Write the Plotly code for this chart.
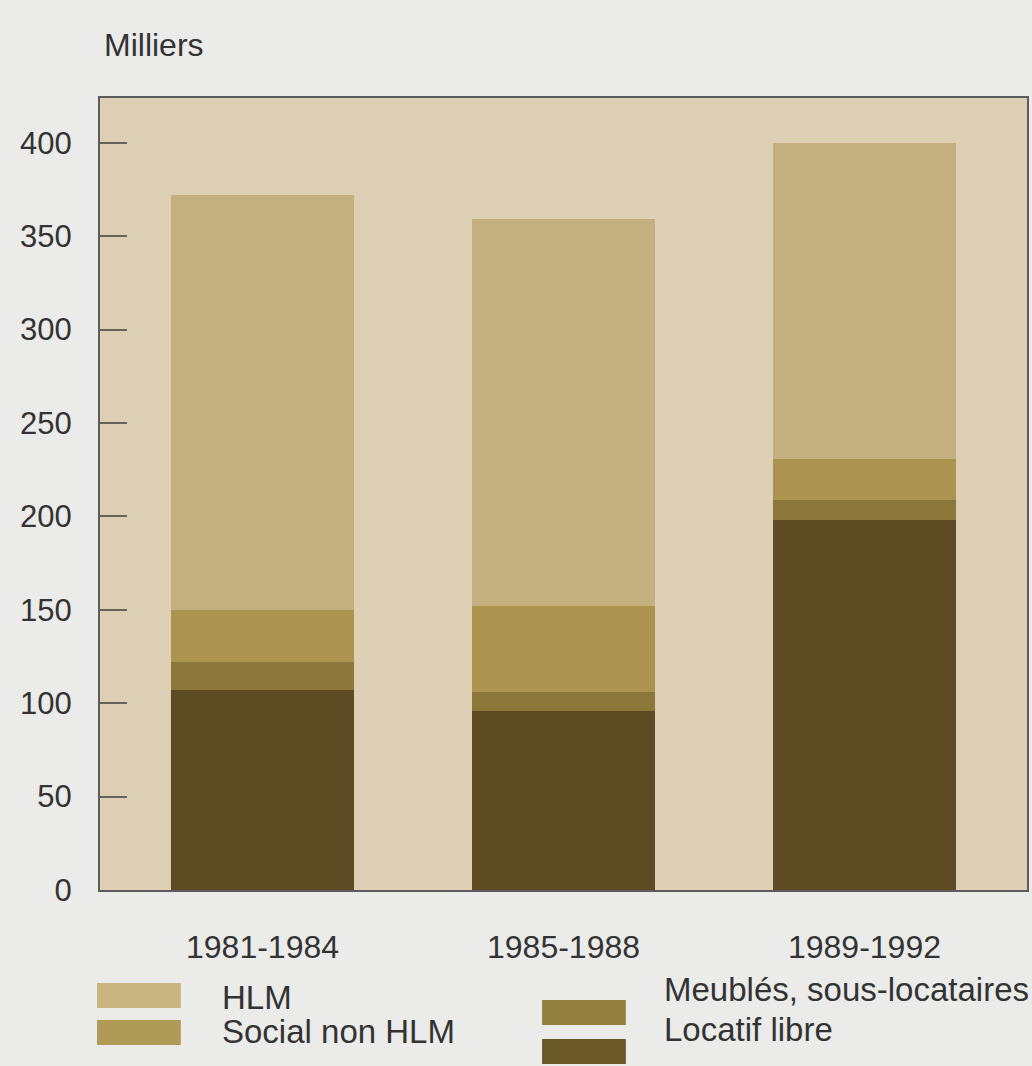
import plotly.graph_objects as go

# Periods and housing categories (thousands of dwellings)
periods = ["1981-1984", "1985-1988", "1989-1992"]
locatif_libre = [107, 96, 198]
meubles_sous_locataires = [15, 10, 11]
social_non_hlm = [28, 46, 22]
hlm = [222, 207, 169]

y_ticks = [0, 50, 100, 150, 200, 250, 300, 350, 400]

series = [
    ("Locatif libre", locatif_libre, "#5d4c23"),
    ("Meublés, sous-locataires", meubles_sous_locataires, "#8a7739"),
    ("Social non HLM", social_non_hlm, "#aa944f"),
    ("HLM", hlm, "#c4b07e"),
]
legend_colors = {
    "HLM": "#c8b47f",
    "Social non HLM": "#b09a57",
    "Meublés, sous-locataires": "#948140",
    "Locatif libre": "#6a5827",
}

FONT = "Liberation Sans, Arial, Helvetica, sans-serif"
TXT = "#333333"

fig = go.Figure()
x_pos = list(range(len(periods)))
for name, vals, color in series:
    fig.add_trace(go.Bar(
        x=x_pos, y=vals, name=name, width=0.61,
        marker=dict(color=color, line=dict(width=0)),
        showlegend=False,
    ))

W, H = 1032, 1066
fig.update_layout(
    width=W, height=H,
    barmode="stack",
    paper_bgcolor="#ebebea",
    plot_bgcolor="#dccfb3",
    margin=dict(l=100, r=3, t=98, b=176),
    font=dict(family=FONT, color=TXT),
)
fig.update_xaxes(
    range=[-0.54, 2.54],
    tickvals=x_pos, ticktext=periods,
    tickfont=dict(size=32, color=TXT, family=FONT),
    ticks="", ticklabelstandoff=28,
    showline=True, linecolor="#5c5c5c", linewidth=2, mirror=True,
    showgrid=False, zeroline=False,
)
fig.update_yaxes(
    range=[0, 424],
    tickvals=y_ticks,
    tickfont=dict(size=31, color=TXT, family=FONT),
    ticks="inside", ticklen=27, tickwidth=2, tickcolor="#66625a",
    ticklabelstandoff=20,
    showline=True, linecolor="#5c5c5c", linewidth=2, mirror=True,
    showgrid=False, zeroline=False,
)

pw, ph = W - 100 - 3, H - 98 - 176


def px(x):
    return (x - 100) / pw


def py(y):
    return (H - 176 - y) / ph


# Unit label above the axis
fig.add_annotation(
    text="Milliers", xref="paper", yref="paper",
    x=px(102), y=py(45),
    xanchor="left", yanchor="middle", showarrow=False,
    font=dict(size=32, color=TXT, family=FONT),
)

# Legend drawn in pixel-based paper coordinates
legend_items = [
    ("HLM", 97, 983, 220, 997),
    ("Social non HLM", 97, 1020, 220, 1031),
    ("Meublés, sous-locataires", 543, 1000, 663, 989),
    ("Locatif libre", 543, 1039, 663, 1029),
]
for name, sx, sy, tx, ty in legend_items:
    fig.add_shape(
        type="rect", xref="paper", yref="paper",
        x0=px(sx), x1=px(sx + 84), y0=py(sy + 25), y1=py(sy),
        fillcolor=legend_colors[name], line=dict(width=0),
    )
    fig.add_annotation(
        text=name, xref="paper", yref="paper",
        x=px(tx), y=py(ty), xanchor="left", yanchor="middle",
        showarrow=False, font=dict(size=33, color=TXT, family=FONT),
    )

fig.write_html("out.html")
